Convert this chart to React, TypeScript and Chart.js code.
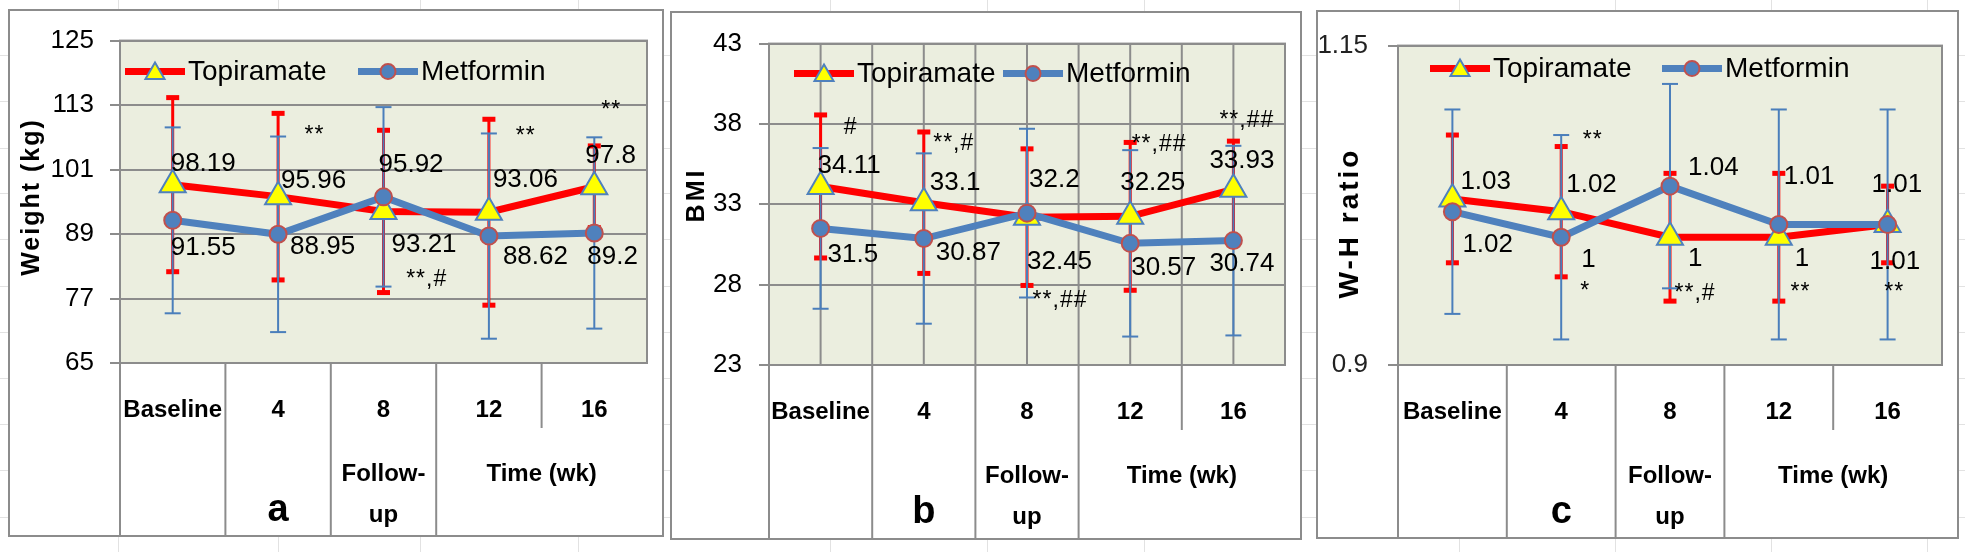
import React, { useEffect, useRef } from 'react';
import { Chart, registerables } from 'chart.js';

Chart.register(...registerables);

// ---------------- data ----------------
const categories = ['Baseline', '4', '8', '12', '16'];
const seriesNames = ['Topiramate', 'Metformin'];
const panelLetters = ['a', 'b', 'c'];

const weightTopiramate = [98.19, 95.96, 93.21, 93.06, 97.8];
const weightTopiramateSD = [16.2, 15.5, 15.1, 17.3, 7.6];
const weightMetformin = [91.55, 88.95, 95.92, 88.62, 89.2];
const weightMetforminSD = [17.3, 18.2, 16.7, 19.1, 17.8];

const bmiTopiramate = [34.11, 33.1, 32.2, 32.25, 33.93];
const bmiTopiramateSD = [4.45, 4.4, 4.25, 4.6, 3.0];
const bmiMetformin = [31.5, 30.87, 32.45, 30.57, 30.74];
const bmiMetforminSD = [5.0, 5.3, 5.25, 5.8, 5.9];

const whrTopiramate = [1.03, 1.02, 1, 1, 1.01];
const whrTopiramateSD = [0.05, 0.051, 0.05, 0.05, 0.03];
const whrMetformin = [1.02, 1, 1.04, 1.01, 1.01];
const whrMetforminSD = [0.08, 0.08, 0.08, 0.09, 0.09];

const weightTicks = [65, 125, 12];
const bmiTicks = [23, 43, 5];
const whrTicks = [0.9, 1.15, 0.25];

const weightSigText = ['**', '**,#', '**', '**'];
const weightSigAt = [1.345, 2.41, 3.35, 4.16];
const weightSigValue = [107.4, 80.5, 107.2, 111.9];

const bmiSigText = ['#', '**,#', '**,##', '**,##', '**,##'];
const bmiSigAt = [0.29, 1.29, 2.32, 3.28, 4.13];
const bmiSigValue = [37.8, 36.8, 27.0, 36.7, 38.2];

const whrSigText = ['**', '*', '**,#', '**', '**'];
const whrSigAt = [1.29, 1.22, 2.23, 3.2, 4.06];
const whrSigValue = [1.0756, 0.9573, 0.9558, 0.957, 0.957];

// ---------------- style ----------------
const FAM = '"Liberation Sans", Arial, sans-serif';
const GRID = '#8C8C8C';
const PLOT_BG = '#EBEEDF';
const RED = '#FF0000';
const BLUE = '#4F81BD';
const BLUE_ERR = '#4A7EBB';
const YELLOW = '#FFFF00';
const CIRCLE_EDGE = '#C0504D';

type Rect = { l: number; t: number; r: number; b: number };
type PanelCfg = {
  frame: Rect;
  plot: Rect;
  ticks: number[];
  tickPad: number;
  tickColor: string;
  title: string;
  titleX: number;
  titleY: number;
  titleSize: number;
  titleSpacing: number;
  t: number[];
  tSD: number[];
  m: number[];
  mSD: number[];
  tDx: number[];
  tDy: number[];
  mDx: number[];
  mDy: number[];
  sigText: string[];
  sigAt: number[];
  sigValue: number[];
  legendX: number[];
  legendY: number;
  letter: string;
  verticalGrid: boolean;
};

const panels: PanelCfg[] = [
  {
    frame: { l: 8, t: 9, r: 664, b: 537 },
    plot: { l: 120, t: 29, r: 662, b: 363 },
    ticks: weightTicks,
    tickPad: 16,
    tickColor: '#000',
    title: 'Weight (kg)',
    titleX: 24,
    titleY: 188,
    titleSize: 25,
    titleSpacing: 2,
    t: weightTopiramate,
    tSD: weightTopiramateSD,
    m: weightMetformin,
    mSD: weightMetforminSD,
    tDx: [-2, 3, 8, 4, -9],
    tDy: [-21, -16, 33, -32, -31],
    mDx: [-2, 12, -5, 14, -7],
    mDy: [27, 13, -32, 21, 24],
    sigText: weightSigText,
    sigAt: weightSigAt,
    sigValue: weightSigValue,
    legendX: [5, 238],
    legendY: 31,
    letter: panelLetters[0],
    verticalGrid: false,
  },
  {
    frame: { l: 670, t: 11, r: 1302, b: 540 },
    plot: { l: 769, t: 32, r: 1299, b: 365 },
    ticks: bmiTicks,
    tickPad: 17,
    tickColor: '#000',
    title: 'BMI',
    titleX: 27,
    titleY: 184,
    titleSize: 25,
    titleSpacing: 3,
    t: bmiTopiramate,
    tSD: bmiTopiramateSD,
    m: bmiMetformin,
    mSD: bmiMetforminSD,
    tDx: [-3, 6, 2, -10, -24],
    tDy: [-21, -20, -37, -34, -29],
    mDx: [7, 12, 0, 1, -24],
    mDy: [26, 14, 49, 24, 23],
    sigText: bmiSigText,
    sigAt: bmiSigAt,
    sigValue: bmiSigValue,
    legendX: [25, 234],
    legendY: 30,
    letter: panelLetters[1],
    verticalGrid: true,
  },
  {
    frame: { l: 1316, t: 10, r: 1959, b: 539 },
    plot: { l: 1398, t: 29, r: 1957, b: 365 },
    ticks: whrTicks,
    tickPad: 20,
    tickColor: '#222',
    title: 'W-H ratio',
    titleX: 34,
    titleY: 213,
    titleSize: 28,
    titleSpacing: 3,
    t: whrTopiramate,
    tSD: whrTopiramateSD,
    m: whrMetformin,
    mSD: whrMetforminSD,
    tDx: [8, 5, 18, 16, -18],
    tDy: [-17, -27, 22, 22, 37],
    mDx: [10, 20, 18, 5, -16],
    mDy: [33, 23, -18, -48, -40],
    sigText: whrSigText,
    sigAt: whrSigAt,
    sigValue: whrSigValue,
    legendX: [32, 264],
    legendY: 23,
    letter: panelLetters[2],
    verticalGrid: false,
  },
];

function drawTriangle(ctx: CanvasRenderingContext2D, x: number, y: number, r: number) {
  ctx.beginPath();
  for (let k = 0; k < 3; k++) {
    const a = (k * 2 * Math.PI) / 3;
    const px = x + Math.sin(a) * r;
    const py = y - Math.cos(a) * r;
    if (k === 0) ctx.moveTo(px, py);
    else ctx.lineTo(px, py);
  }
  ctx.closePath();
  ctx.fillStyle = YELLOW;
  ctx.fill();
  ctx.lineWidth = 2;
  ctx.strokeStyle = BLUE;
  ctx.stroke();
}

function drawCircle(ctx: CanvasRenderingContext2D, x: number, y: number, r: number) {
  ctx.beginPath();
  ctx.arc(x, y, r, 0, Math.PI * 2);
  ctx.fillStyle = BLUE;
  ctx.fill();
  ctx.lineWidth = 2;
  ctx.strokeStyle = CIRCLE_EDGE;
  ctx.stroke();
}

function Panel({ cfg }: { cfg: PanelCfg }) {
  const ref = useRef<HTMLCanvasElement>(null);
  const w = cfg.frame.r - cfg.frame.l;
  const h = cfg.frame.b - cfg.frame.t;

  useEffect(() => {
    const canvas = ref.current!;
    const deco = {
      id: 'deco',
      beforeDraw(chart: any) {
        const { ctx, chartArea: a } = chart;
        ctx.save();
        ctx.fillStyle = '#fff';
        ctx.fillRect(0, 0, chart.width, chart.height);
        ctx.fillStyle = PLOT_BG;
        ctx.fillRect(a.left, a.top, a.right - a.left, a.bottom - a.top);
        ctx.restore();
      },
      beforeDatasetsDraw(chart: any) {
        const { ctx, chartArea: a } = chart;
        const xs = chart.scales.x;
        const ys = chart.scales.y;
        ctx.save();
        if (cfg.verticalGrid) {
          ctx.strokeStyle = GRID;
          ctx.lineWidth = 2;
          for (let i = 0; i < categories.length; i++) {
            for (const d of [0, 0.5]) {
              if (i === categories.length - 1 && d === 0.5) continue;
              const px = xs.getPixelForValue(i + d);
              ctx.beginPath();
              ctx.moveTo(px, a.top);
              ctx.lineTo(px, a.bottom);
              ctx.stroke();
            }
          }
        }
        const drawErr = (vals: number[], sds: number[], color: string, lw: number, capW: number, capH: number) => {
          ctx.strokeStyle = color;
          ctx.fillStyle = color;
          ctx.lineWidth = lw;
          vals.forEach((v, i) => {
            const px = xs.getPixelForValue(i);
            const yt = ys.getPixelForValue(v + sds[i]);
            const yb = ys.getPixelForValue(v - sds[i]);
            ctx.beginPath();
            ctx.moveTo(px, yt);
            ctx.lineTo(px, yb);
            ctx.stroke();
            ctx.fillRect(px - capW / 2, yt - capH / 2, capW, capH);
            ctx.fillRect(px - capW / 2, yb - capH / 2, capW, capH);
          });
        };
        drawErr(cfg.t, cfg.tSD, RED, 3, 13, 5);
        drawErr(cfg.m, cfg.mSD, BLUE_ERR, 2, 16, 2);
        ctx.restore();
      },
      afterDatasetsDraw(chart: any) {
        const { ctx, chartArea: a } = chart;
        const xs = chart.scales.x;
        const ys = chart.scales.y;
        ctx.save();
        // plot border
        ctx.strokeStyle = GRID;
        ctx.lineWidth = 2;
        ctx.strokeRect(a.left, a.top, a.right - a.left, a.bottom - a.top);

        // category axis dividers
        const bottom = chart.height - 1;
        [0, 1, 2, 3].forEach((i) => {
          const px = xs.getPixelForValue(i - 0.5);
          ctx.beginPath();
          ctx.moveTo(px, a.bottom);
          ctx.lineTo(px, bottom);
          ctx.stroke();
        });
        {
          const px = xs.getPixelForValue(3.5);
          ctx.beginPath();
          ctx.moveTo(px, a.bottom);
          ctx.lineTo(px, a.bottom + 65);
          ctx.stroke();
        }

        // category labels
        ctx.fillStyle = '#000';
        ctx.textAlign = 'center';
        ctx.textBaseline = 'middle';
        ctx.font = `bold 24px ${FAM}`;
        categories.forEach((c, i) => {
          ctx.fillText(c, xs.getPixelForValue(i), a.bottom + 47);
        });
        ctx.fillText('Follow-', xs.getPixelForValue(2), a.bottom + 111);
        ctx.fillText('up', xs.getPixelForValue(2), a.bottom + 152);
        ctx.fillText('Time (wk)', xs.getPixelForValue(3.5), a.bottom + 111);
        ctx.font = `bold 38px Arial, ${FAM}`;
        ctx.fillText(cfg.letter, xs.getPixelForValue(1), a.bottom + 148);

        // data labels
        ctx.font = `26px ${FAM}`;
        ctx.textAlign = 'left';
        const drawLabels = (vals: number[], dx: number[], dy: number[]) => {
          vals.forEach((v, i) => {
            const px = xs.getPixelForValue(i);
            const py = ys.getPixelForValue(v);
            ctx.fillText(String(v), px + dx[i], py + dy[i]);
          });
        };
        drawLabels(cfg.t, cfg.tDx, cfg.tDy);
        drawLabels(cfg.m, cfg.mDx, cfg.mDy);

        // significance marks
        ctx.font = `23px ${FAM}`;
        ctx.textAlign = 'center';
        (ctx as any).letterSpacing = '1px';
        cfg.sigText.forEach((s, i) => {
          ctx.fillText(s, xs.getPixelForValue(cfg.sigAt[i]), ys.getPixelForValue(cfg.sigValue[i]));
        });
        (ctx as any).letterSpacing = '0px';

        // legend
        const ly = a.top + cfg.legendY;
        ctx.font = `28px ${FAM}`;
        ctx.textAlign = 'left';
        seriesNames.forEach((name, k) => {
          const x0 = a.left + cfg.legendX[k];
          ctx.strokeStyle = k === 0 ? RED : BLUE;
          ctx.lineWidth = 7;
          ctx.beginPath();
          ctx.moveTo(x0, ly);
          ctx.lineTo(x0 + 60, ly);
          ctx.stroke();
          if (k === 0) drawTriangle(ctx, x0 + 30, ly + 2, 11);
          else drawCircle(ctx, x0 + 30, ly, 7.5);
          ctx.fillStyle = '#000';
          ctx.fillText(name, x0 + 63, ly + 1);
        });

        // y title
        ctx.save();
        ctx.translate(cfg.titleX, cfg.titleY);
        ctx.rotate(-Math.PI / 2);
        ctx.font = `bold ${cfg.titleSize}px ${FAM}`;
        (ctx as any).letterSpacing = `${cfg.titleSpacing}px`;
        ctx.textAlign = 'center';
        ctx.textBaseline = 'middle';
        ctx.fillStyle = '#000';
        ctx.fillText(cfg.title, 0, 0);
        ctx.restore();

        // frame
        ctx.strokeStyle = GRID;
        ctx.lineWidth = 2;
        ctx.strokeRect(1, 1, chart.width - 2, chart.height - 2);
        ctx.restore();
      },
    };

    const chart = new Chart(canvas, {
      type: 'line',
      data: {
        labels: categories,
        datasets: [
          {
            label: seriesNames[0],
            data: cfg.t,
            borderColor: RED,
            borderWidth: 7,
            pointStyle: 'triangle',
            pointRadius: 15,
            pointBackgroundColor: YELLOW,
            pointBorderColor: BLUE,
            pointBorderWidth: 2,
            tension: 0,
            fill: false,
            order: 1,
          },
          {
            label: seriesNames[1],
            data: cfg.m,
            borderColor: BLUE,
            borderWidth: 7,
            pointStyle: 'circle',
            pointRadius: 8.5,
            pointBackgroundColor: BLUE,
            pointBorderColor: CIRCLE_EDGE,
            pointBorderWidth: 2,
            tension: 0,
            fill: false,
            order: 0,
          },
        ],
      },
      options: {
        responsive: false,
        animation: false,
        devicePixelRatio: 1,
        layout: {
          padding: {
            top: cfg.plot.t - cfg.frame.t,
            right: cfg.frame.r - cfg.plot.r,
            bottom: cfg.frame.b - cfg.plot.b,
            left: 0,
          },
        },
        plugins: { legend: { display: false }, tooltip: { enabled: false }, title: { display: false } },
        scales: {
          x: { type: 'category', display: false, offset: true },
          y: {
            type: 'linear',
            min: cfg.ticks[0],
            max: cfg.ticks[1],
            afterFit: (s: any) => {
              s.width = cfg.plot.l - cfg.frame.l;
            },
            ticks: {
              stepSize: cfg.ticks[2],
              padding: cfg.tickPad,
              color: cfg.tickColor,
              font: { family: FAM, size: 26 },
              callback: (v: any) => String(Math.round(Number(v) * 1000) / 1000),
            },
            grid: { color: GRID, lineWidth: 2, tickLength: 10, drawTicks: true },
            border: { display: true, color: GRID, width: 2 },
          },
        },
      } as any,
      plugins: [deco],
    });
    return () => chart.destroy();
  }, []);

  return (
    <canvas
      ref={ref}
      width={w}
      height={h}
      style={{ position: 'absolute', left: cfg.frame.l, top: cfg.frame.t, width: w, height: h }}
    />
  );
}

const bgVertical = [118, 278, 420, 578, 830, 987, 1144, 1459, 1615, 1771, 1927];
const bgHorizontal = [55, 101, 148, 193, 239, 286, 332, 378, 424, 470, 517];

export default function App() {
  return (
    <div style={{ position: 'absolute', left: 0, top: 0, width: 1965, height: 552, background: '#fff', overflow: 'hidden' }}>
      {bgVertical.map((x) => (
        <div key={'v' + x} style={{ position: 'absolute', left: x, top: 0, width: 1, height: 552, background: '#E2E2E2' }} />
      ))}
      {bgHorizontal.map((y) => (
        <div key={'h' + y} style={{ position: 'absolute', left: 0, top: y, width: 1965, height: 1, background: '#E2E2E2' }} />
      ))}
      {panels.map((p, i) => (
        <Panel key={i} cfg={p} />
      ))}
    </div>
  );
}
